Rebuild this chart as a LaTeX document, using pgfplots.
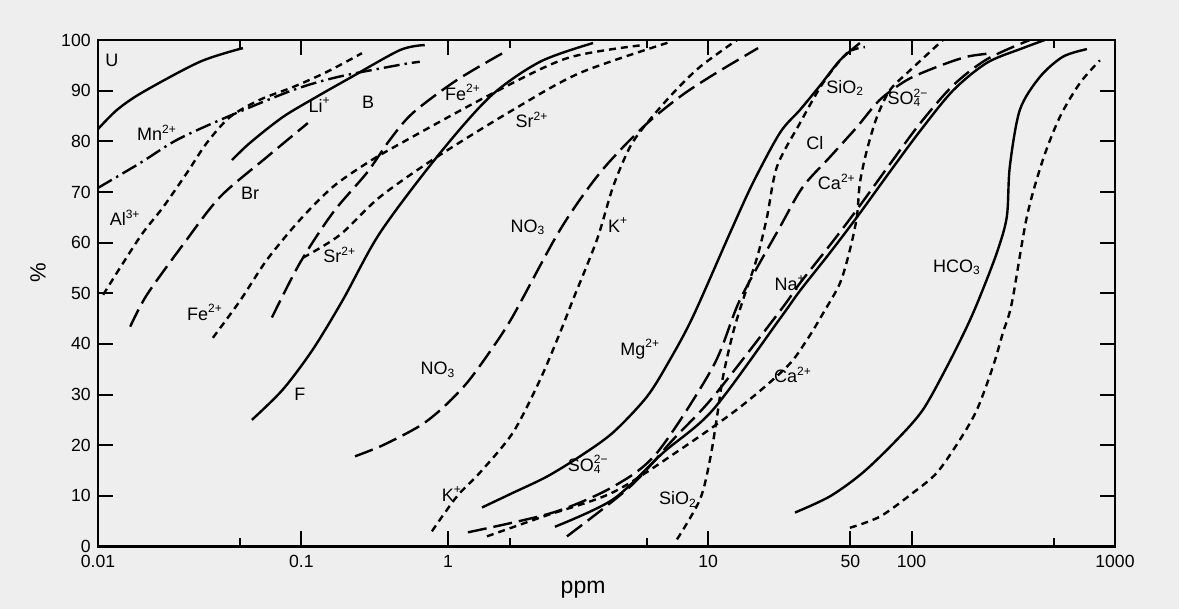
\documentclass[border=0pt]{standalone}
\usepackage{fontspec}
\setmainfont{Liberation Sans}
\usepackage{xcolor}
\usepackage{pgfplots}
\pgfplotsset{compat=1.18}
\definecolor{paper}{RGB}{238,238,238}

\pgfplotsset{
  solidc/.style={black, line width=1.2pt, smooth, no marks},
  longd/.style={black, line width=1.2pt, smooth, no marks, dash pattern=on 9.5pt off 3.5pt},
  shortd/.style={black, line width=1.2pt, smooth, no marks, dash pattern=on 3.5pt off 2.5pt},
  dashdot/.style={black, line width=1.2pt, smooth, no marks, dash pattern=on 8pt off 2.5pt on 1.2pt off 2.5pt},
}
\newcommand{\lab}{\fontsize{9}{10.8}\selectfont}

\begin{document}
\begin{tikzpicture}
\path[use as bounding box, fill=paper] (-49pt,-31.25pt) rectangle (540.5pt,273.25pt);
\begin{axis}[
  at={(0,0)}, anchor=south west,
  scale only axis, width=508.5pt, height=253.25pt,
  xmode=log, xmin=0.01, xmax=1000, ymin=0, ymax=100,
  axis line style={line width=1.2pt},
  tick style={black, line width=1pt},
  tick align=inside,
  major tick length=7.5pt, minor tick length=4pt,
  xtick={0.01,0.1,0.526,10,50,100,1000},
  xticklabels={0.01,0.1,1,10,50,100,1000},
  minor xtick={0.05,1.06,5,500},
  ytick={0,10,...,100},
  /pgf/number format/assume math mode=true,
  ticklabel style={font=\fontsize{8.8}{10}\selectfont, inner sep=1pt},
  xticklabel style={yshift=-3pt},
  yticklabel style={xshift=-2.5pt},
  xlabel={ppm},
  xlabel style={at={(axis description cs:0.477,0)}, anchor=center, yshift=-21.75pt, font=\fontsize{11.5}{13}\selectfont},
  ylabel={\%},
  ylabel style={at={(axis description cs:-0.059,0.54)}, anchor=center, font=\fontsize{11}{13}\selectfont},
]
% U
\addplot[solidc] coordinates {(0.01,82.4) (0.0124,86.2) (0.0166,89.7) (0.0317,95.7) (0.0516,98.4)};
% Mn2+
\addplot[dashdot] coordinates {(0.01,70.8) (0.0161,75.7) (0.0245,80.3) (0.0431,84.8) (0.0908,90.1) (0.151,92.7) (0.305,95.1) (0.382,95.7)};
% Al3+
\addplot[shortd] coordinates {(0.0106,49.7) (0.0133,56) (0.0166,61.9) (0.0209,67) (0.0274,73.8) (0.0343,79.7) (0.0446,84.8) (0.0625,88.2) (0.0908,90.7) (0.1334,93.7) (0.1985,97.4)};
% Br
\addplot[longd] coordinates {(0.0144,43.4) (0.0174,49.7) (0.0262,59.6) (0.0398,69) (0.0677,76.9) (0.1076,83.6)};
% Li+
\addplot[solidc] coordinates {(0.0456,76.3) (0.0559,79.7) (0.0811,84.8) (0.119,88.8) (0.173,92.5) (0.305,98) (0.404,99)};
% Fe2+ (short dash)
\addplot[shortd] coordinates {(0.0367,41.2) (0.0499,48.5) (0.0677,56.6) (0.0984,64.5) (0.1428,71) (0.21,75.7) (0.305,79.5) (0.846,89.2) (2.02,96.4) (4.78,99)};
% Sr2+
\addplot[shortd] coordinates {(0.1017,57) (0.1545,61.5) (0.2432,69) (0.4634,76.9) (1.097,86.2) (2.342,93.5) (6.49,99.6)};
% Fe2+ (long dash)
\addplot[longd] coordinates {(0.0716,45.2) (0.0984,56) (0.1428,65.9) (0.21,73.8) (0.2724,80.3) (0.3533,85.6) (0.5818,92.1) (1.037,98)};
% F
\addplot[solidc] coordinates {(0.0571,25) (0.0811,31) (0.1138,38.9) (0.16,48.7) (0.2432,61.9) (0.4634,76.9) (0.8458,88.8) (1.49,95.7) (2.715,99.4)};
% NO3
\addplot[longd] coordinates {(0.1834,17.8) (0.2518,20) (0.3818,23.8) (0.4962,27.4) (0.6516,32.3) (0.8458,38.5) (1.097,45.5) (1.868,62.5) (2.94,73.8) (4.783,82.8) (7.266,88.8) (10.56,93.1) (17.58,98.4)};
% K+
\addplot[shortd] coordinates {(0.4381,3) (0.5818,9.9) (0.7552,14.6) (1.097,22.5) (1.49,32.9) (1.868,42.2) (2.163,48.7) (2.84,60.6) (3.405,71) (4.128,78.9) (5.003,83.6) (6.716,89.5) (9.117,94.7) (13.85,100)};
% Mg2+
\addplot[solidc] coordinates {(0.7727,7.7) (1.097,10.6) (1.611,13.8) (2.342,17.8) (3.405,22.5) (5.003,29.6) (6.49,36.9) (8.418,45.4) (12.8,61.9) (16.6,71.8) (22.55,81.7) (28.27,86.2) (35.46,91) (44.46,96) (55.71,99.4)};
% SiO2
\addplot[shortd] coordinates {(7.025,1.4) (9.117,9.3) (10.21,17.2) (11.05,25.6) (11.82,33.5) (13.25,42.2) (14.83,48.7) (17.38,57) (19.45,65) (21.79,75) (28.27,83.6) (36.67,91.5) (48.12,97.4) (58.99,98.6)};
% Cl
\addplot[longd] coordinates {(0.659,2.8) (1.725,6.7) (3.405,11.8) (5.602,18.5) (10.56,35.5) (14.33,48.7) (22.55,63.1) (29.2,71) (39.69,76.9) (53.83,82.8) (69.87,88.2) (94.9,92.1) (133.4,94.7) (187.1,96.7) (251.1,97.4)};
% Ca2+ (long dash)
\addplot[longd] coordinates {(2.021,2) (4.128,11.8) (6.716,21.1) (10.56,29.5) (22.55,46.5) (28.27,52) (39.69,59.5) (53.83,66.5) (78.26,75.5) (109.9,83.5) (159.6,91) (234.6,96.2) (381.2,100)};
% Na+
\addplot[solidc] coordinates {(1.764,3.9) (3.405,9.3) (5.998,18.5) (10.56,27) (22.55,45) (28.27,50.5) (39.69,58) (53.83,65) (78.26,74) (109.9,82) (159.6,90) (234.6,95.5) (352.4,98.4) (451.9,100)};
% Ca2+ / SO4 (short dash)
\addplot[shortd] coordinates {(0.817,2) (1.541,5.9) (3.405,10.7) (7.266,19.1) (14.33,27.5) (24.39,35.5) (30.6,40.8) (36.67,46) (44.46,52) (49.76,58.6) (53.83,65.1) (55.71,71.8) (60.34,78.3) (67.54,84.8) (78.26,90.1) (98.2,94) (142.6,100)};
% HCO3
\addplot[solidc] coordinates {(26.71,6.7) (39.69,9.9) (57.65,14.6) (84.77,21.1) (113.7,27) (149.2,35.5) (187.1,43.4) (216.7,49.3) (262.5,58) (293.9,65.1) (304,75) (340.6,86.2) (427.2,92.7) (554.6,96.7) (727.8,98.2)};
% HCO3 (short dash)
\addplot[shortd] coordinates {(49.76,3.7) (69.87,5.9) (101.6,10.6) (133.4,14.6) (172.9,21.1) (209.5,27) (251.1,35.5) (281.2,42.2) (311.1,48.1) (368.8,65.1) (441.6,76.3) (535.8,84.8) (672.4,91.5) (843.3,96)};

\node[font=\lab] at (axis cs:0.0117,96) {U};
\node[font=\lab] at (axis cs:0.0195,81.7) {Mn\textsuperscript{2+}};
\node[font=\lab] at (axis cs:0.0136,64.9) {Al\textsuperscript{3+}};
\node[font=\lab] at (axis cs:0.0559,69.8) {Br};
\node[font=\lab] at (axis cs:0.123,87.2) {Li\textsuperscript{+}};
\node[font=\lab] at (axis cs:0.213,87.6) {B};
\node[font=\lab] at (axis cs:0.1545,57.6) {Sr\textsuperscript{2+}};
\node[font=\lab] at (axis cs:0.0336,46.2) {Fe\textsuperscript{2+}};
\node[font=\lab] at (axis cs:0.0984,30) {F};
\node[font=\lab] at (axis cs:0.469,34.9) {NO\textsubscript{3}};
\node[font=\lab] at (axis cs:0.623,89.7) {Fe\textsuperscript{2+}};
\node[font=\lab] at (axis cs:1.36,84.2) {Sr\textsuperscript{2+}};
\node[font=\lab] at (axis cs:1.30,63.1) {NO\textsubscript{3}};
\node[font=\lab] at (axis cs:3.61,63.5) {K\textsuperscript{+}};
\node[font=\lab] at (axis cs:0.55,10.3) {K\textsuperscript{+}};
\node[font=\lab] at (axis cs:4.63,38.9) {Mg\textsuperscript{2+}};
\node[font=\lab] at (axis cs:2.57,16.2) {SO\rlap{\textsubscript{4}}\textsuperscript{2−}};
\node[font=\lab] at (axis cs:7.11,9.3) {SiO\textsubscript{2}};
\node[font=\lab] at (axis cs:47.1,90.5) {SiO\textsubscript{2}};
\node[font=\lab] at (axis cs:96,88.6) {SO\rlap{\textsubscript{4}}\textsuperscript{2−}};
\node[font=\lab] at (axis cs:33.5,79.7) {Cl};
\node[font=\lab] at (axis cs:42.9,72) {Ca\textsuperscript{2+}};
\node[font=\lab] at (axis cs:25.3,52) {Na\textsuperscript{+}};
\node[font=\lab] at (axis cs:167,55.2) {HCO\textsubscript{3}};
\node[font=\lab] at (axis cs:26.1,33.9) {Ca\textsuperscript{2+}};
\end{axis}
\end{tikzpicture}
\end{document}
